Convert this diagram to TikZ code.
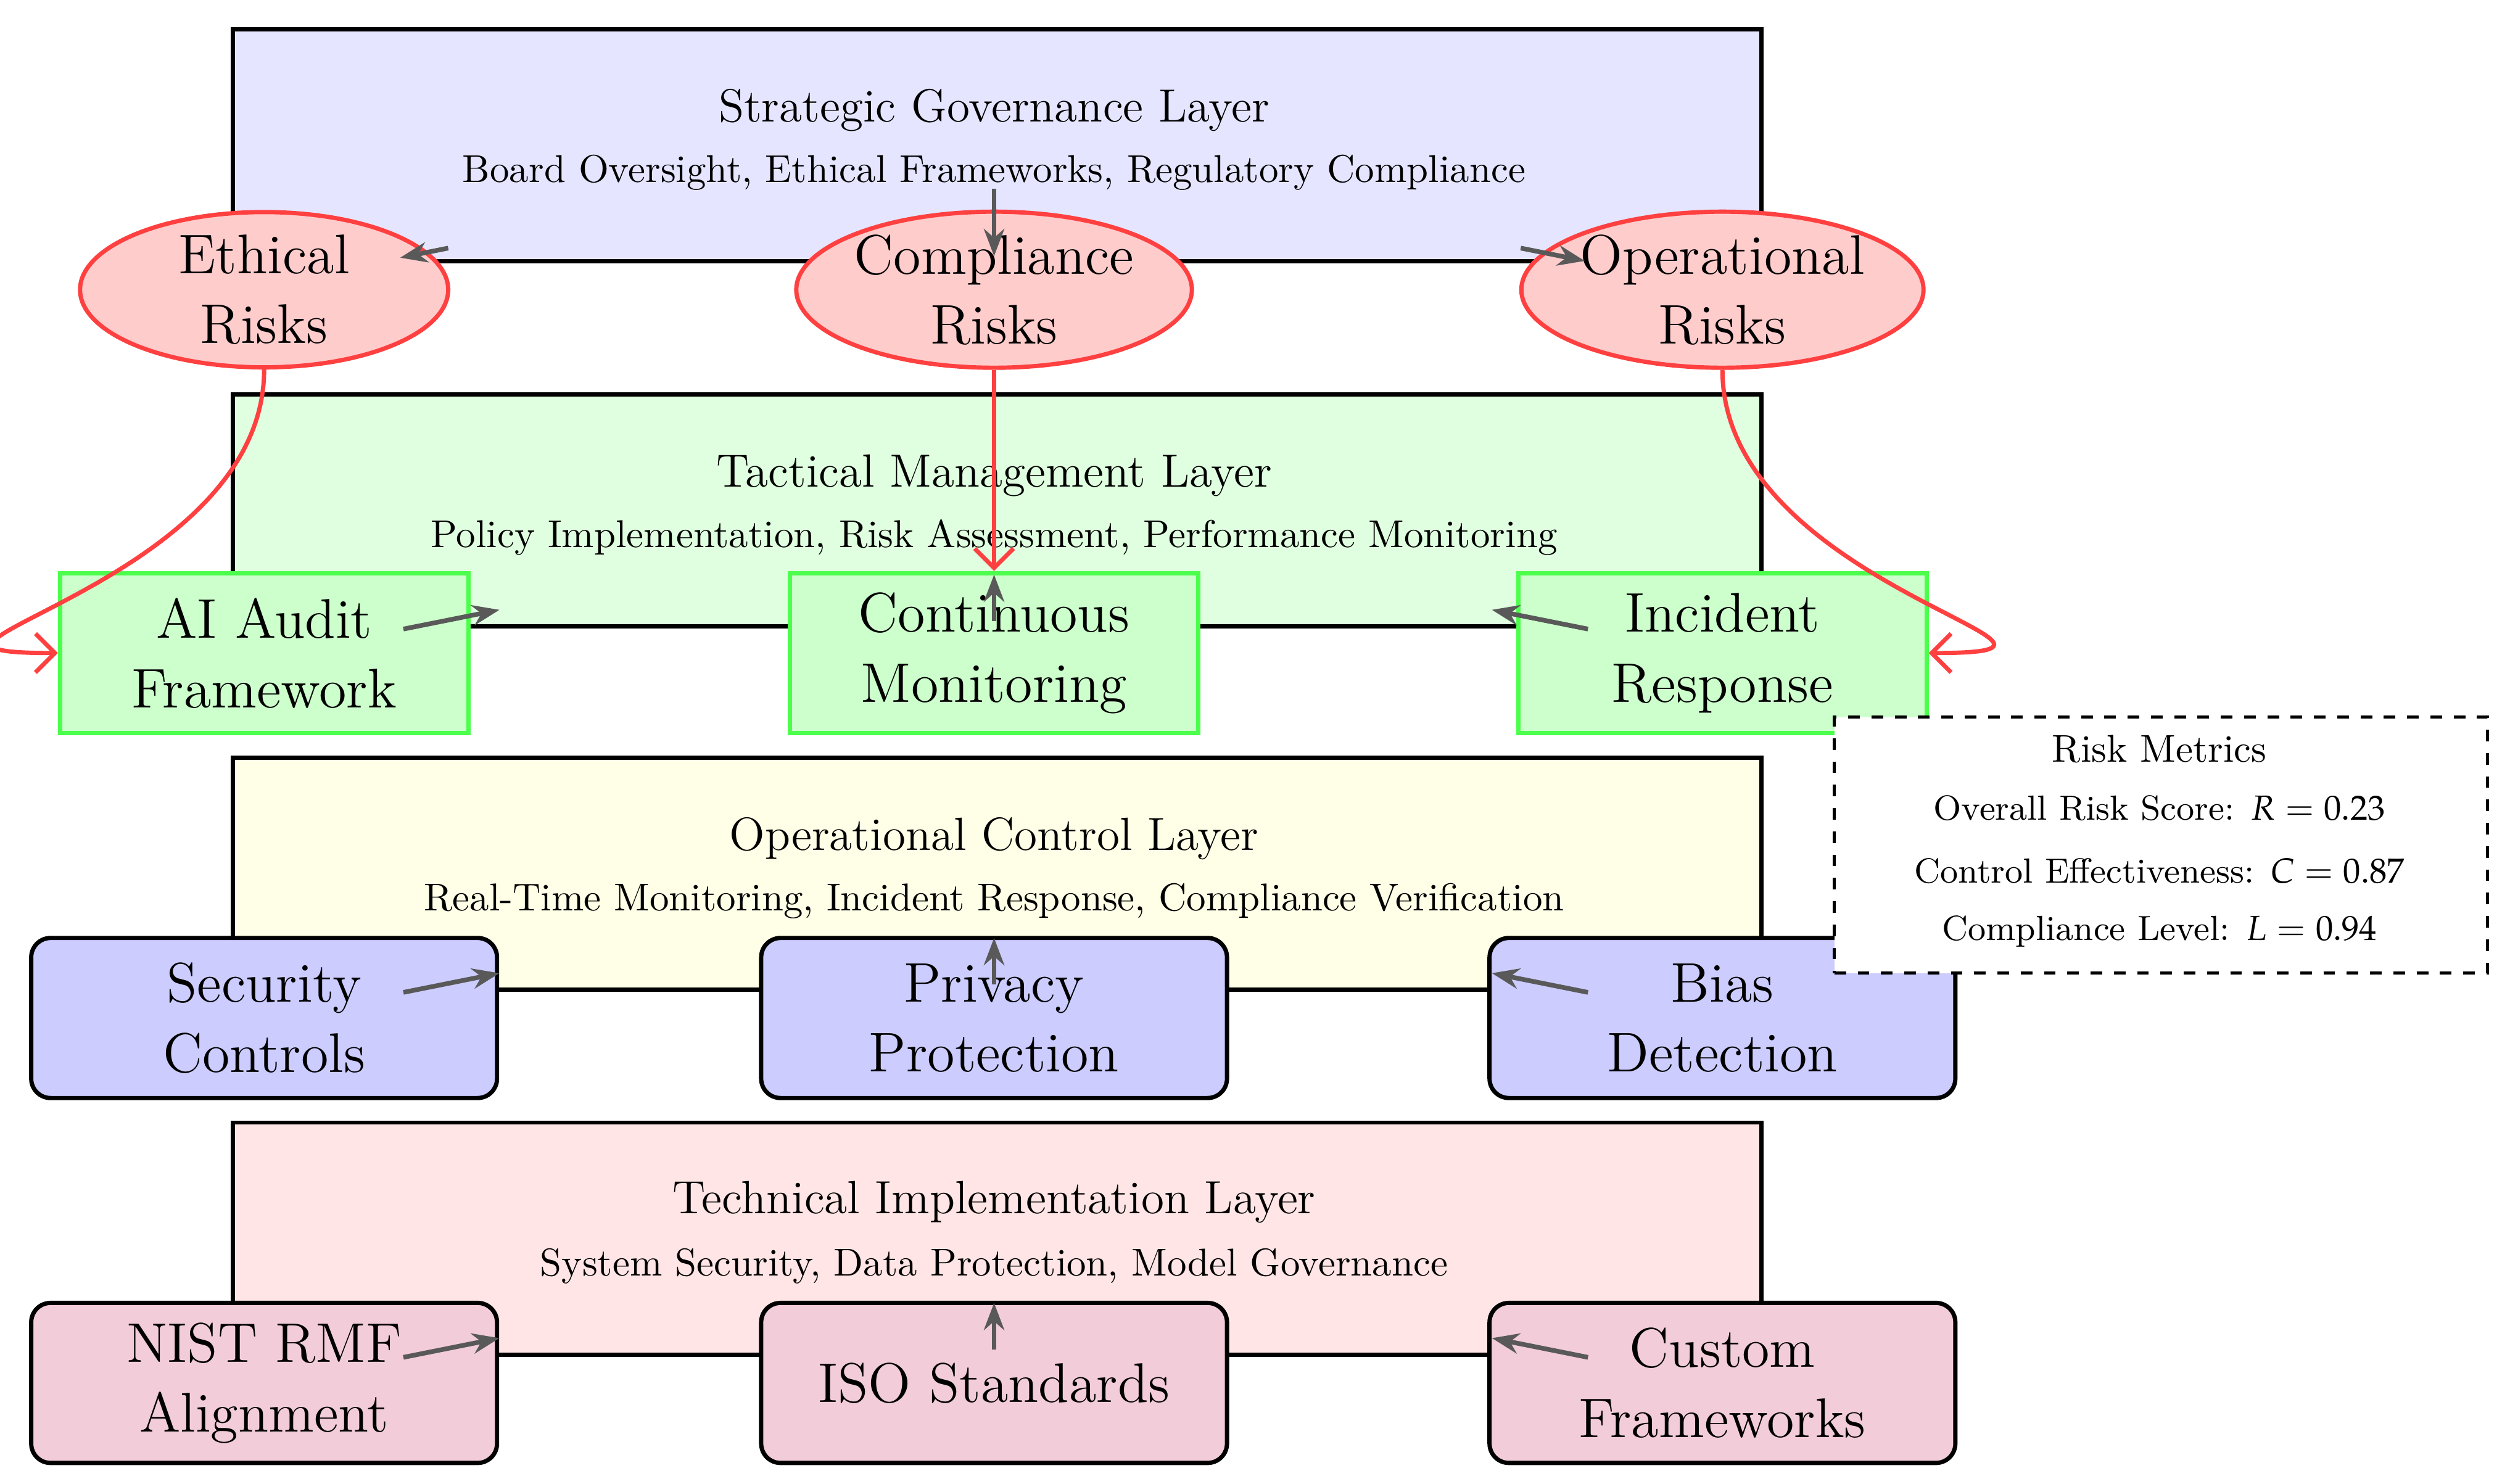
\documentclass[tikz,border=0pt]{standalone}
\usepackage{mathpazo}
\usetikzlibrary{shapes.geometric,arrows.meta}
\begin{document}
\begin{tikzpicture}[x=0.0145cm,y=-0.0145cm,
 layer/.style={draw=black,line width=1.1pt,minimum width=955*0.0145cm,minimum height=145*0.0145cm,anchor=north west},
 risk/.style={ellipse,draw=red!75,fill=red!20,line width=1.1pt,minimum width=230*0.0145cm,minimum height=90*0.0145cm,font=\Large,align=center,inner sep=0pt},
 tact/.style={draw=green!75!black!60,draw=green!70,fill=green!20,line width=1.1pt,minimum width=255*0.0145cm,minimum height=100*0.0145cm,font=\Large,align=center},
 ops/.style={draw=black,rounded corners=5pt,line width=1.1pt,minimum width=291*0.0145cm,minimum height=100*0.0145cm,font=\Large,align=center},
 garr/.style={-{Stealth[length=7pt]},draw=black!65,line width=1.2pt},
 rarr/.style={-{Straight Barb[length=5pt]},draw=red!75,line width=1.1pt},
 ttl/.style={font=\large\bfseries},sub/.style={font=\normalsize}]
\useasboundingbox (0,0) rectangle (1568,927);
% layers
\node[layer,fill=blue!10] (L1) at (144,17) {};
\node[layer,fill=green!12] (L2) at (144,245) {};
\node[layer,fill=yellow!10] (L3) at (144,472) {};
\node[layer,fill=red!10] (L4) at (144,700) {};
\node[ttl] (t1) at (621,69) {Strategic Governance Layer};
\node[sub] (s1) at (621,108) {Board Oversight, Ethical Frameworks, Regulatory Compliance};
\node[ttl] (t2) at (621,297) {Tactical Management Layer};
\node[sub] (s2) at (621,336) {Policy Implementation, Risk Assessment, Performance Monitoring};
\node[ttl] (t3) at (621,524) {Operational Control Layer};
\node[sub] (s3) at (621,563) {Real-Time Monitoring, Incident Response, Compliance Verification};
\node[ttl] (t4) at (621,751) {Technical Implementation Layer};
\node[sub] (s4) at (621,791) {System Security, Data Protection, Model Governance};
% risks
\node[risk] (e1) at (165,181) {Ethical\\Risks};
\node[risk] (e2) at (621,181) {Compliance\\Risks};
\node[risk] (e3) at (1076,181) {Operational\\Risks};
% tactical
\node[tact] (a1) at (165,408) {AI Audit\\Framework};
\node[tact] (a2) at (621,408) {Continuous\\Monitoring};
\node[tact] (a3) at (1076,408) {Incident\\Response};
% ops
\node[ops,fill=blue!20] (o1) at (165,636) {Security\\Controls};
\node[ops,fill=blue!20] (o2) at (621,636) {Privacy\\Protection};
\node[ops,fill=blue!20] (o3) at (1076,636) {Bias\\Detection};
% tech
\node[ops,fill=purple!20] (k1) at (165,864) {NIST RMF\\Alignment};
\node[ops,fill=purple!20] (k2) at (621,864) {ISO Standards};
\node[ops,fill=purple!20] (k3) at (1076,864) {Custom\\Frameworks};
% gray arrows
\coordinate (g1a) at (280,155); \coordinate (g1b) at (250,161);
\coordinate (g2a) at (621,118); \coordinate (g2b) at (621,160);
\coordinate (g3a) at (950,155); \coordinate (g3b) at (990,163);
\draw[garr] (g1a) -- (g1b); \draw[garr] (g2a) -- (g2b); \draw[garr] (g3a) -- (g3b);
\foreach \y/\n in {393/a,620/o,848/k}{
 \coordinate (\n l1) at (252,\y); \coordinate (\n l2) at (312,\y-12);
 \coordinate (\n m1) at (621,\y-5); \coordinate (\n m2) at (621,\y-34);
 \coordinate (\n r1) at (992,\y); \coordinate (\n r2) at (932,\y-12);
 \draw[garr] (\n l1) -- (\n l2); \draw[garr] (\n m1) -- (\n m2); \draw[garr] (\n r1) -- (\n r2);}
% red arrows
\draw[rarr] (e1.south) to[out=-90,in=180,looseness=1.6] (a1.west);
\draw[rarr] (e2.south) -- (a2.north);
\draw[rarr] (e3.south) to[out=-90,in=0,looseness=1.6] (a3.east);
% metrics
\node[draw,dashed,fill=white,line width=0.8pt,minimum width=408*0.0145cm,minimum height=160*0.0145cm,anchor=north west] (m) at (1145,447) {};
\node[font=\normalsize\bfseries] (m0) at (1349,468) {Risk Metrics};
\node[font=\small] (m1) at (1349,505) {Overall Risk Score: $R=0.23$};
\node[font=\small] (m2) at (1349,544) {Control Effectiveness: $C=0.87$};
\node[font=\small] (m3) at (1349,582) {Compliance Level: $L=0.94$};
\end{tikzpicture}
\end{document}
